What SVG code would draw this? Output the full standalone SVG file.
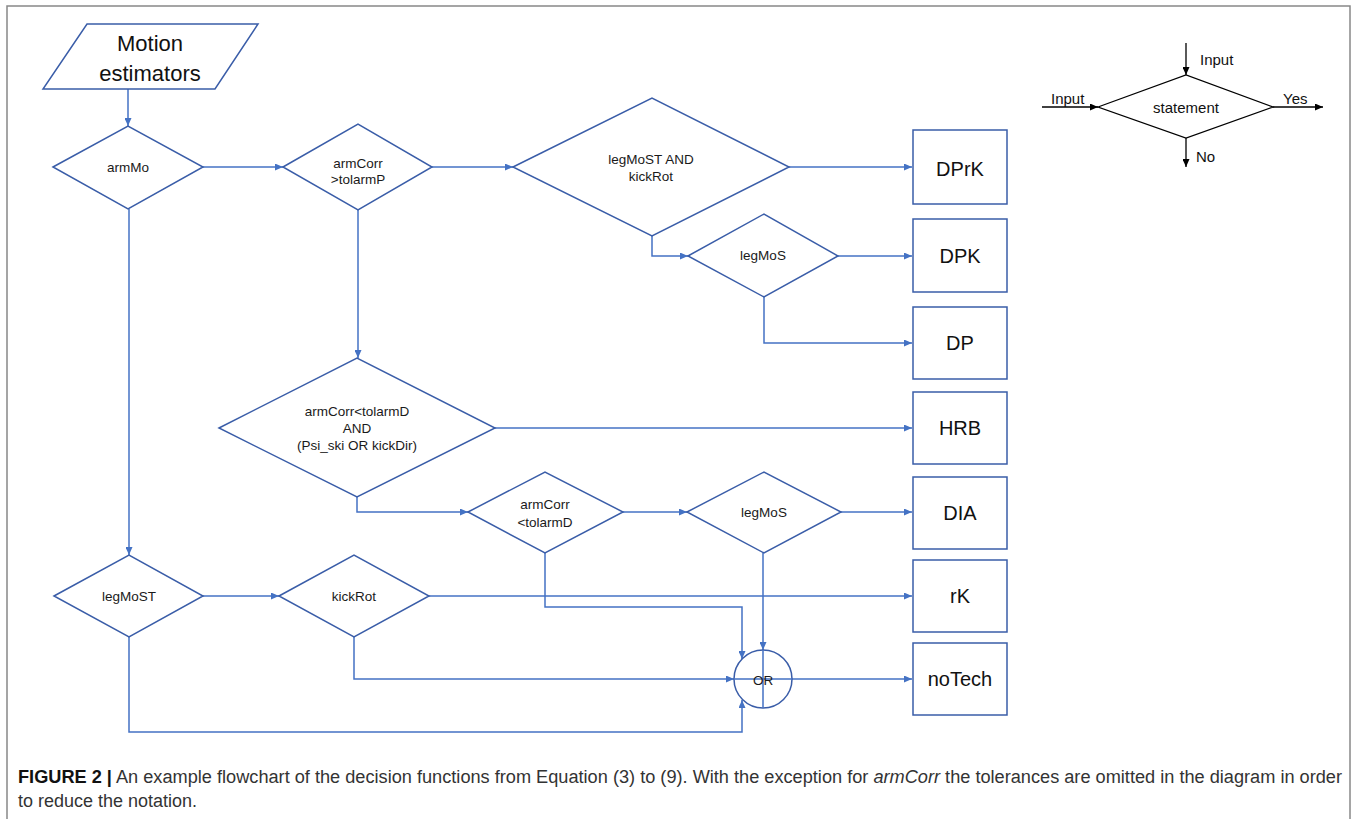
<svg xmlns="http://www.w3.org/2000/svg" width="1358" height="819" viewBox="0 0 1358 819">
<defs>
<marker id="ab" viewBox="0 0 8 7" refX="8" refY="3.5" markerWidth="8" markerHeight="7" markerUnits="userSpaceOnUse" orient="auto"><path d="M0,0 L8,3.5 L0,7 z" fill="#4472C4"/></marker>
<marker id="ak" viewBox="0 0 8 7" refX="8" refY="3.5" markerWidth="8" markerHeight="7" markerUnits="userSpaceOnUse" orient="auto"><path d="M0,0 L8,3.5 L0,7 z" fill="#000"/></marker>
<style>
.sh{fill:none;stroke:#3A5DA8;stroke-width:1.5}
.cn{fill:none;stroke:#4472C4;stroke-width:1.5;marker-end:url(#ab)}
.cl{fill:none;stroke:#4472C4;stroke-width:1.5}
.lg{fill:none;stroke:#000;stroke-width:1.3}
.la{fill:none;stroke:#000;stroke-width:1.3;marker-end:url(#ak)}
.t{font-family:"Liberation Sans",Arial,sans-serif;font-size:13.5px;fill:#1a1a1a;text-anchor:middle}
.b{font-family:"Liberation Sans",Arial,sans-serif;font-size:20px;fill:#111;text-anchor:middle}
.m{font-family:"Liberation Sans",Arial,sans-serif;font-size:22px;fill:#111;text-anchor:middle}
.l{font-family:"Liberation Sans",Arial,sans-serif;font-size:15px;fill:#111}
.cap{font-family:"Liberation Sans",Arial,sans-serif;font-size:18px;fill:#333}
</style>
</defs>
<rect x="7" y="6" width="1343" height="830" fill="none" stroke="#888" stroke-width="1.5"/>

<g id="connectors">
<path class="cn" d="M128,89 V126"/>
<path class="cn" d="M203,167 H283"/>
<path class="cn" d="M432,167 H513"/>
<path class="cn" d="M789,167 H912"/>
<path class="cn" d="M652,236 V256 H688"/>
<path class="cn" d="M838,256 H912"/>
<path class="cn" d="M764,297 V343 H912"/>
<path class="cn" d="M358,210 V358"/>
<path class="cn" d="M495,428 H912"/>
<path class="cn" d="M357,497 V512 H468"/>
<path class="cn" d="M623,512 H687"/>
<path class="cn" d="M841,512 H912"/>
<path class="cn" d="M129,209 V555"/>
<path class="cn" d="M203,596 H279"/>
<path class="cn" d="M429,596 H912"/>
<path class="cn" d="M545,553 V607 H742 V659"/>
<path class="cn" d="M763,553 V650"/>
<path class="cn" d="M354,637 V679 H734"/>
<path class="cn" d="M129,637 V732 H742 V700"/>
<path class="cn" d="M792,679 H912"/>
</g>

<g id="motion-estimators">
<polygon class="sh" points="87,24 258,24 215,89 43,89"/>
<text class="m" x="150" y="51">Motion</text>
<text class="m" x="150" y="81">estimators</text>
</g>
<g id="armMo">
<polygon class="sh" points="53,167 128,126 203,167 128,209"/>
<text class="t" x="128" y="172">armMo</text>
</g>
<g id="armCorr-tolarmP">
<polygon class="sh" points="283,167 358,124 432,167 358,210"/>
<text class="t" x="358" y="168">armCorr</text>
<text class="t" x="358" y="184">&gt;tolarmP</text>
</g>
<g id="legMoST-and-kickRot">
<polygon class="sh" points="513,167 652,98 789,167 652,236"/>
<text class="t" x="651" y="164">legMoST AND</text>
<text class="t" x="651" y="181">kickRot</text>
</g>
<g id="legMoS-1">
<polygon class="sh" points="688,256 764,214 838,256 764,297"/>
<text class="t" x="763" y="260">legMoS</text>
</g>
<g id="armCorr-tolarmD-and">
<polygon class="sh" points="219,428 357,358 495,428 357,497"/>
<text class="t" x="357" y="416">armCorr&lt;tolarmD</text>
<text class="t" x="357" y="433">AND</text>
<text class="t" x="357" y="450">(Psi_ski OR kickDir)</text>
</g>
<g id="armCorr-tolarmD">
<polygon class="sh" points="468,512 545,472 623,512 545,553"/>
<text class="t" x="545" y="509">armCorr</text>
<text class="t" x="545" y="527">&lt;tolarmD</text>
</g>
<g id="legMoS-2">
<polygon class="sh" points="687,512 764,472 841,512 764,553"/>
<text class="t" x="764" y="517">legMoS</text>
</g>
<g id="legMoST">
<polygon class="sh" points="54,596 129,555 203,596 129,637"/>
<text class="t" x="129" y="601">legMoST</text>
</g>
<g id="kickRot">
<polygon class="sh" points="279,596 354,555 429,596 354,637"/>
<text class="t" x="354" y="601">kickRot</text>
</g>
<g id="or">
<circle class="sh" cx="763" cy="679" r="29"/>
<path class="cl" d="M763,650 V708 M734,679 H792"/>
<text class="t" x="763" y="685" font-size="14">OR</text>
</g>

<g id="DPrK"><rect class="sh" x="913" y="130" width="94" height="74"/><text class="b" x="960" y="176">DPrK</text></g>
<g id="DPK"><rect class="sh" x="913" y="219" width="94" height="73"/><text class="b" x="960" y="263">DPK</text></g>
<g id="DP"><rect class="sh" x="913" y="307" width="94" height="72"/><text class="b" x="960" y="350">DP</text></g>
<g id="HRB"><rect class="sh" x="913" y="392" width="94" height="72"/><text class="b" x="960" y="435">HRB</text></g>
<g id="DIA"><rect class="sh" x="913" y="477" width="94" height="72"/><text class="b" x="960" y="520">DIA</text></g>
<g id="rK"><rect class="sh" x="913" y="560" width="94" height="72"/><text class="b" x="960" y="603">rK</text></g>
<g id="noTech"><rect class="sh" x="913" y="643" width="94" height="72"/><text class="b" x="960" y="686">noTech</text></g>

<g id="legend">
<polygon class="lg" points="1098,107 1186,75 1273,107 1186,138"/>
<path class="la" d="M1186,43 V75"/>
<path class="la" d="M1042,107 H1098"/>
<path class="la" d="M1273,107 H1323"/>
<path class="la" d="M1186,138 V167"/>
<text class="l" x="1200" y="65">Input</text>
<text class="l" x="1051" y="104">Input</text>
<text class="l" x="1283" y="104">Yes</text>
<text class="l" x="1196" y="162">No</text>
<text class="l" x="1186" y="113" text-anchor="middle">statement</text>
</g>

<g id="caption">
<text class="cap" x="18" y="783" textLength="1324" lengthAdjust="spacingAndGlyphs"><tspan font-weight="bold" fill="#111">FIGURE 2 |</tspan> An example flowchart of the decision functions from Equation (3) to (9). With the exception for <tspan font-style="italic">armCorr</tspan> the tolerances are omitted in the diagram in order</text>
<text class="cap" x="18" y="807" textLength="179" lengthAdjust="spacingAndGlyphs">to reduce the notation.</text>
</g>
</svg>
